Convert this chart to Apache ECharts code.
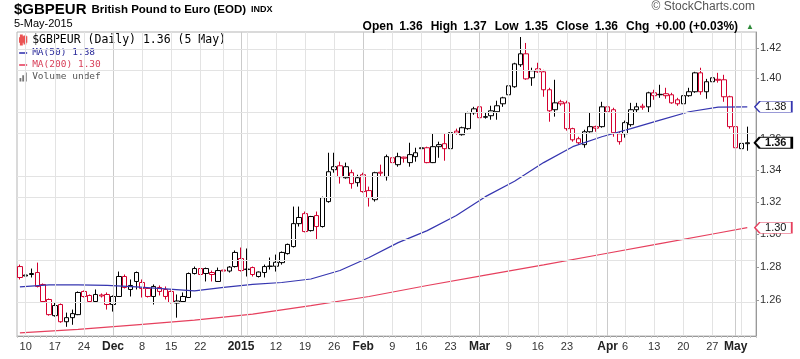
<!DOCTYPE html>
<html><head><meta charset="utf-8">
<script src="https://cdn.jsdelivr.net/npm/echarts@6/dist/echarts.min.js"></script>
<style>html,body{margin:0;padding:0;background:#fff}#c{width:800px;height:359px}</style>
</head><body><div id="c"></div>
<script>
// ---- data ----
const startDate = '2014-11-07';
const endDate = '2015-05-05';
const holidays = ['2014-12-25', '2015-01-01'];

const openV = [
1.2803,1.2746,1.2755,1.2767,1.2695,1.2605,1.2509,1.2575,1.2473,1.2497,
1.2515,1.2653,1.2629,1.2593,1.2632,1.2635,1.2575,1.2623,1.2743,1.2665,
1.2767,1.2707,1.2671,1.2623,1.2677,1.2665,1.2653,1.2584,1.2593,1.2617,
1.2761,1.2791,1.2791,1.2767,1.2713,1.2782,1.2776,1.2803,1.2852,1.2785,
1.2797,1.2743,1.2767,1.2804,1.2805,1.2827,1.2882,1.2925,1.3066,1.3128,
1.3023,1.3116,1.3048,1.3203,1.3404,1.3429,1.3353,1.3385,1.3322,1.3372,
1.3272,1.3215,1.3388,1.3360,1.3480,1.3436,1.3484,1.3449,1.3487,1.3538,
1.3544,1.3449,1.3551,1.3570,1.3538,1.3651,1.3628,1.3667,1.3770,1.3809,
1.3741,1.3751,1.3777,1.3829,1.3888,1.3941,1.4087,1.4160,1.4000,1.4060,
1.4040,1.3921,1.3790,1.3842,1.3835,1.3667,1.3602,1.3564,1.3647,1.3680,
1.3680,1.3809,1.3790,1.3583,1.3634,1.3693,1.3790,1.3813,1.3809,1.3901,
1.3888,1.3895,1.3888,1.3855,1.3829,1.3882,1.3908,1.4033,1.3908,1.3974,
1.3990,1.3987,1.3875,1.3680,1.3538,1.3570];
const highV = [
1.2815,1.2773,1.2791,1.2827,1.2701,1.2611,1.2587,1.2581,1.2527,1.2545,
1.2653,1.2659,1.2635,1.2665,1.2641,1.2647,1.2629,1.2773,1.2755,1.2725,
1.2773,1.2725,1.2677,1.2695,1.2689,1.2683,1.2659,1.2635,1.2647,1.2767,
1.2803,1.2797,1.2797,1.2779,1.2797,1.2791,1.2806,1.2901,1.2919,1.2913,
1.2803,1.2773,1.2815,1.2858,1.2876,1.2895,1.2943,1.3172,1.3172,1.3141,
1.3114,1.3141,1.3234,1.3512,1.3512,1.3455,1.3449,1.3404,1.3372,1.3385,
1.3297,1.3391,1.3436,1.3500,1.3487,1.3512,1.3487,1.3576,1.3544,1.3564,
1.3551,1.3634,1.3583,1.3634,1.3647,1.3667,1.3680,1.3777,1.3809,1.3842,
1.3770,1.3816,1.3849,1.3875,1.3954,1.4100,1.4273,1.4233,1.4067,1.4100,
1.4053,1.3934,1.3987,1.3855,1.3849,1.3673,1.3615,1.3660,1.3770,1.3686,
1.3842,1.3835,1.3803,1.3647,1.3719,1.3835,1.3835,1.3829,1.3908,1.3921,
1.3954,1.3934,1.3901,1.3868,1.3941,1.3934,1.4040,1.4067,1.3993,1.4020,
1.4033,1.4020,1.3882,1.3693,1.3589,1.3680];
const lowV = [
1.2725,1.2719,1.2737,1.2677,1.2587,1.2509,1.2503,1.2467,1.2443,1.2455,
1.2512,1.2617,1.2587,1.2587,1.2617,1.2545,1.2533,1.2620,1.2671,1.2623,
1.2665,1.2617,1.2617,1.2575,1.2629,1.2605,1.2581,1.2497,1.2587,1.2614,
1.2755,1.2713,1.2713,1.2713,1.2710,1.2767,1.2767,1.2797,1.2773,1.2743,
1.2743,1.2737,1.2737,1.2785,1.2773,1.2815,1.2876,1.2919,1.3048,1.3012,
1.3017,1.2968,1.3042,1.3196,1.3385,1.3316,1.3347,1.3284,1.3297,1.3259,
1.3172,1.3203,1.3360,1.3335,1.3436,1.3423,1.3449,1.3423,1.3455,1.3525,
1.3445,1.3446,1.3480,1.3461,1.3506,1.3628,1.3622,1.3660,1.3757,1.3699,
1.3732,1.3725,1.3725,1.3809,1.3875,1.3934,1.4073,1.3987,1.3947,1.4033,
1.3875,1.3712,1.3745,1.3816,1.3654,1.3583,1.3564,1.3544,1.3641,1.3647,
1.3673,1.3770,1.3615,1.3564,1.3609,1.3680,1.3770,1.3790,1.3770,1.3855,
1.3868,1.3862,1.3829,1.3816,1.3816,1.3875,1.3901,1.3888,1.3862,1.3961,
1.3968,1.3842,1.3667,1.3487,1.3532,1.3525];
const closeV = [
1.2737,1.2752,1.2761,1.2683,1.2593,1.2515,1.2569,1.2473,1.2497,1.2521,
1.2647,1.2623,1.2593,1.2635,1.2626,1.2575,1.2623,1.2743,1.2677,1.2689,
1.2713,1.2671,1.2623,1.2683,1.2653,1.2623,1.2587,1.2596,1.2623,1.2761,
1.2791,1.2755,1.2761,1.2755,1.2779,1.2776,1.2800,1.2889,1.2779,1.2788,
1.2755,1.2770,1.2803,1.2806,1.2829,1.2889,1.2938,1.3066,1.3104,1.3017,
1.3110,1.3048,1.3228,1.3391,1.3423,1.3360,1.3423,1.3316,1.3353,1.3266,
1.3228,1.3385,1.3382,1.3487,1.3449,1.3487,1.3477,1.3500,1.3512,1.3544,
1.3449,1.3551,1.3564,1.3538,1.3641,1.3638,1.3673,1.3770,1.3796,1.3738,
1.3745,1.3783,1.3816,1.3868,1.3947,1.4093,1.4160,1.3993,1.4047,1.4040,
1.3921,1.3783,1.3835,1.3829,1.3667,1.3595,1.3576,1.3647,1.3680,1.3670,
1.3809,1.3777,1.3641,1.3634,1.3706,1.3790,1.3809,1.3806,1.3901,1.3882,
1.3891,1.3882,1.3835,1.3829,1.3882,1.3908,1.4033,1.3908,1.3974,1.4000,
1.3984,1.3875,1.3680,1.3544,1.3572,1.3576];

const ma50Idx = [0,5,10,15,20,25,30,35,40,45,50,55,60,65,70,75,80,85,90,95,100,105,110,115,120,125];
const ma50V = [1.2680,1.2692,1.2692,1.2689,1.2680,1.2668,1.2656,1.2677,1.2695,1.2707,1.2728,1.2779,1.2858,
  1.2949,1.3023,1.3116,1.3234,1.3331,1.3449,1.3551,1.3615,1.3667,1.3722,1.3777,1.3807,1.3809];
const ma200Idx = [0,10,20,30,40,50,60,70,80,90,100,110,120,125];
const ma200V = [1.2407,1.2428,1.2455,1.2482,1.2518,1.2569,1.2623,1.2689,1.2751,1.2813,1.2878,1.2943,1.3008,1.3041];

const xLabelDates = ['2014-11-10','2014-11-17','2014-11-24','2014-12-01','2014-12-08','2014-12-15','2014-12-22',
  '2015-01-02','2015-01-12','2015-01-19','2015-01-26','2015-02-02','2015-02-09','2015-02-16','2015-02-23',
  '2015-03-02','2015-03-09','2015-03-16','2015-03-23','2015-04-01','2015-04-06','2015-04-13','2015-04-20',
  '2015-04-27','2015-05-01'];
const xLabelText = ['10','17','24','Dec','8','15','22','2015','12','19','26','Feb','9','16','23','Mar','9','16','23',
  'Apr','6','13','20','27','May'];
const boldLabels = ['Dec','2015','Feb','Mar','Apr','May'];
const weekLineDates = ['2014-11-10','2014-11-17','2014-11-24','2014-12-08','2014-12-15','2014-12-22','2014-12-29',
  '2015-01-05','2015-01-12','2015-01-19','2015-01-26','2015-02-09','2015-02-16','2015-02-23','2015-03-09',
  '2015-03-16','2015-03-23','2015-03-30','2015-04-06','2015-04-13','2015-04-20','2015-04-27','2015-05-04'];
const monthLineDates = ['2014-12-01','2015-01-02','2015-02-02','2015-03-02','2015-04-01','2015-05-01'];
const yTicks = [1.26,1.28,1.30,1.32,1.34,1.36,1.38,1.40,1.42];
const yMin = 1.2389, yMax = 1.4307;

// ---- build ----
function tradingDays(s, e, hol) {
  const out = [];
  let d = new Date(s + 'T00:00:00Z');
  const end = new Date(e + 'T00:00:00Z');
  while (d <= end) {
    const wd = d.getUTCDay();
    const str = d.toISOString().slice(0, 10);
    if (wd !== 0 && wd !== 6 && hol.indexOf(str) < 0) out.push(str);
    d = new Date(d.getTime() + 86400000);
  }
  return out;
}
const dates = tradingDays(startDate, endDate, holidays);
const categories = dates.concat(['']);
const labelMap = {};
xLabelDates.forEach((d, i) => { labelMap[d] = xLabelText[i]; });

const RED = '#d4002f';
const BLUE = '#3636b0';
const PINK = '#e6405e';
const FONT = '"Liberation Sans", Arial, sans-serif';
const MONO = '"DejaVu Sans Mono", monospace';
const L = Math.log;

const candleData = closeV.map((c, i) => {
  const prev = i > 0 ? closeV[i - 1] : openV[i];
  const col = c >= prev ? '#000' : RED;
  return {
    value: [L(openV[i]), L(c), L(lowV[i]), L(highV[i])],
    itemStyle: { color: '#fff', color0: col, borderColor: col, borderColor0: col }
  };
});
const last = closeV.length - 1;
const lastClose = closeV[last];
const chg = closeV[last] - closeV[last - 1];
const pct = chg / closeV[last - 1] * 100;
const sgn = v => (v >= 0 ? '+' : '') + v.toFixed(2);
const ma50Last = ma50V[ma50V.length - 1];
const ma200Last = ma200V[ma200V.length - 1];

const mainName = '$GBPEUR (Daily) ' + lastClose.toFixed(2) + ' (5 May)';
const ma50Name = 'MA(50) ' + ma50Last.toFixed(2);
const ma200Name = 'MA(200) ' + ma200Last.toFixed(2);
const volName = 'Volume undef';

const gridLines = []
  .concat(weekLineDates.map(d => ({ xAxis: d, lineStyle: { color: '#e3e3e3', width: 1, type: 'solid' } })))
  .concat(monthLineDates.map(d => ({ xAxis: d, lineStyle: { color: '#cbcbcb', width: 1, type: 'solid' } })))
  .concat(yTicks.map(t => ({ yAxis: L(t), lineStyle: { color: '#e3e3e3', width: 1, type: 'solid' } })));

const tagPath = 'path://M0,5.5L5,0L37,0L37,11L5,11Z';
function tag(coordIdx, val, border, bold, bw) {
  return {
    symbol: tagPath, symbolSize: [37, 11], symbolOffset: [26, 0], silent: true,
    itemStyle: { color: '#fff', borderColor: border, borderWidth: bw },
    label: { show: true, position: 'inside', formatter: '{b}', color: '#111', fontSize: 11,
      fontWeight: bold ? 'bold' : 'normal', fontFamily: FONT, offset: [2.5, 0.5] },
    data: [{ name: val.toFixed(2), coord: [coordIdx, L(val)] }]
  };
}

const chart = echarts.init(document.getElementById('c'), null, { renderer: 'canvas' });
chart.setOption({
  animation: false,
  backgroundColor: '#fff',
  title: [
    { left: 14, top: 1, padding: 0,
      text: '{a|$GBPEUR} {b|British Pound to Euro (EOD)} {c|INDX}',
      textStyle: { rich: {
        a: { fontSize: 15, fontWeight: 'bold', fontFamily: FONT, color: '#000' },
        b: { fontSize: 11.5, fontFamily: FONT, color: '#000' },
        c: { fontSize: 9, fontFamily: FONT, color: '#000' } } } },
    { left: 14, top: 18, padding: 0, text: '5-May-2015',
      textStyle: { fontSize: 11, fontWeight: 'normal', fontFamily: FONT, color: '#000' } },
    { right: 46, top: 18, padding: 0,
      text: '{l|Open} {v|' + openV[last].toFixed(2) + '} {l|High} {v|' + highV[last].toFixed(2) +
        '} {l|Low} {v|' + lowV[last].toFixed(2) + '} {l|Close} {v|' + lastClose.toFixed(2) +
        '} {l|Chg} {v|' + sgn(chg) + ' (' + sgn(pct) + '%)} {g|▲}',
      textStyle: { rich: {
        l: { fontSize: 12, fontWeight: 'bold', fontFamily: FONT, color: '#000' },
        v: { fontSize: 12, fontFamily: FONT, color: '#000', padding: [0, 3, 0, 1] },
        g: { fontSize: 8, fontFamily: FONT, color: '#2e8b3a' } } } },
    { right: 45, top: 1, padding: 0, text: '© StockCharts.com',
      textStyle: { fontSize: 12, fontWeight: 'normal', fontFamily: FONT, color: '#555' } }
  ],
  legend: {
    orient: 'vertical', left: 19, top: 33, padding: 0, itemGap: 0,
    itemWidth: 8, itemHeight: 9, selectedMode: false,
    data: [
      { name: mainName, icon: 'path://M1,0h1v10h-1z M0,3h3v4h-3z M5,1h1v8h-1z M4,2h3v5h-3z',
        itemStyle: { color: '#000' },
        textStyle: { fontFamily: MONO, fontSize: 11.5, color: '#000', lineHeight: 14 } },
      { name: ma50Name, icon: 'path://M0,4h10v2h-10z', itemStyle: { color: BLUE },
        textStyle: { fontFamily: MONO, fontSize: 9.5, color: '#2a2a9a', lineHeight: 12 } },
      { name: ma200Name, icon: 'path://M0,4h10v2h-10z', itemStyle: { color: PINK },
        textStyle: { fontFamily: MONO, fontSize: 9.5, color: '#d8405a', lineHeight: 12 } },
      { name: volName, icon: 'path://M0,6h2v4h-2z M3,3h2v7h-2z M6,0h2v10h-2z', itemStyle: { color: '#777' },
        textStyle: { fontFamily: MONO, fontSize: 9.5, color: '#555', lineHeight: 12 } }
    ]
  },
  grid: { left: 17, right: 44, top: 32, bottom: 23, show: true, borderColor: '#b5b5b5', borderWidth: 1 },
  xAxis: {
    type: 'category', data: categories, boundaryGap: true,
    axisLine: { show: true, lineStyle: { color: '#999' } },
    axisTick: { show: true, interval: 0, length: 2, lineStyle: { color: '#c8c8c8' } },
    splitLine: { show: false },
    axisLabel: {
      interval: (i, v) => labelMap[v] !== undefined,
      formatter: v => { const t = labelMap[v]; if (t === undefined) return ''; return boldLabels.indexOf(t) >= 0 ? '{b|' + t + '}' : t; },
      fontSize: 11, fontFamily: FONT, color: '#333', margin: 5,
      rich: { b: { fontSize: 12, fontWeight: 'bold', fontFamily: FONT, color: '#222' } }
    }
  },
  yAxis: {
    type: 'value', position: 'right', scale: true, min: L(yMin), max: L(yMax),
    axisLine: { show: true, lineStyle: { color: '#999' } },
    axisTick: { show: true, length: 3, customValues: yTicks.map(L), lineStyle: { color: '#999' } },
    axisLabel: { customValues: yTicks.map(L), formatter: v => Math.exp(v).toFixed(2),
      fontSize: 11, fontFamily: FONT, color: '#333', margin: 4 },
    splitLine: { show: false }
  },
  series: [
    { name: 'grid', type: 'line', data: [], z: 1, silent: true,
      markLine: { silent: true, symbol: ['none', 'none'], label: { show: false }, animation: false, data: gridLines } },
    { name: mainName, type: 'candlestick', data: candleData, barWidth: 5, z: 3,
      itemStyle: { borderWidth: 1 },
      markPoint: tag(last, lastClose, '#000', true, 1.5) },
    { name: ma50Name, type: 'line', showSymbol: false, z: 4,
      data: ma50Idx.map((i, k) => [i, L(ma50V[k])]),
      lineStyle: { color: BLUE, width: 1.2 }, itemStyle: { color: BLUE },
      markPoint: tag(last, ma50Last, BLUE, false, 1) },
    { name: ma200Name, type: 'line', showSymbol: false, z: 4,
      data: ma200Idx.map((i, k) => [i, L(ma200V[k])]),
      lineStyle: { color: PINK, width: 1.2 }, itemStyle: { color: PINK },
      markPoint: tag(last, ma200Last, PINK, false, 1) },
    { name: volName, type: 'bar', data: [], itemStyle: { color: '#777' } }
  ]
});
</script>
</body></html>
